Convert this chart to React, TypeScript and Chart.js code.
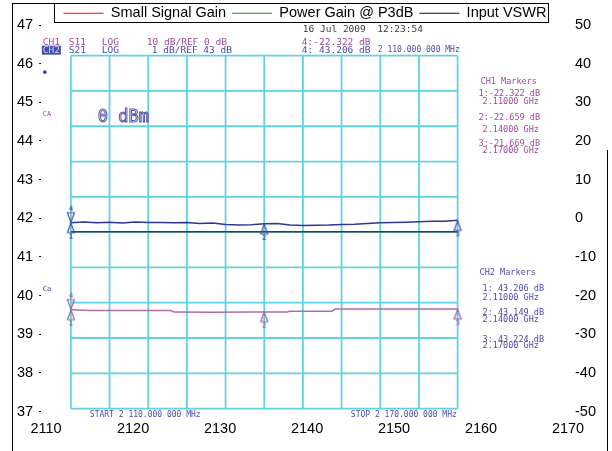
import React, { useEffect, useRef } from 'react';
import { Chart, registerables } from 'chart.js';

Chart.register(...registerables);

// ---------- outer chart axes ----------
const X_TICKS = [2110, 2120, 2130, 2140, 2150, 2160, 2170];
const LEFT_MIN = 37;
const LEFT_MAX = 47;
const LEFT_STEP = 1;
const RIGHT_MIN = -50;
const RIGHT_MAX = 50;
const RIGHT_STEP = 10;

// ---------- legend series (no plotted points visible) ----------
const LEGEND_NAMES = ['Small Signal Gain', 'Power Gain @ P3dB', 'Input VSWR'];
const SMALL_SIGNAL_GAIN: { x: number; y: number }[] = [];
const POWER_GAIN_P3DB: { x: number; y: number }[] = [];
const INPUT_VSWR: { x: number; y: number }[] = [];

// ---------- network analyzer screen (MHz / dB) ----------
const GRID_MHZ = [2110, 2116, 2122, 2128, 2134, 2140, 2146, 2152, 2158, 2164, 2170];
const GRID_CH1_DB = [25, 15, 5, -5, -15, -25, -35, -45, -55, -65, -75];

const S11_MHZ = [2110, 2112, 2114, 2116, 2118, 2120, 2122, 2124, 2126, 2128, 2130, 2132, 2134, 2136, 2138, 2140,
  2142, 2144, 2146, 2148, 2150, 2152, 2154, 2156, 2158, 2160, 2162, 2164, 2166, 2168, 2170];
const S11_DB = [-22.32, -22.1, -22.35, -22.2, -22.4, -22.15, -22.3, -22.25, -22.35, -22.3, -22.55, -22.45, -22.85,
  -22.95, -22.9, -22.66, -22.55, -22.95, -23.15, -23.05, -23.0, -22.85, -22.75, -22.55, -22.35, -22.3, -22.2,
  -22.05, -21.95, -21.9, -21.67];

const S21_MHZ = [2110, 2113, 2119, 2125.5, 2126, 2132, 2138, 2143.5, 2144, 2150.5, 2151, 2157, 2164, 2170];
const S21_DB = [43.206, 43.185, 43.184, 43.182, 43.137, 43.136, 43.14, 43.142, 43.16, 43.162, 43.224, 43.225,
  43.226, 43.224];

const CH1_LINE_MHZ = [2110, 2170];
const CH1_LINE_DB = [-24.9, -24.9];

const MARKER_MHZ = [2110, 2110, 2140, 2170];
const MARKER_LABELS = ['4', '1', '2', '3'];
const S11_MARKER_DB = [-22.322, -22.322, -22.659, -21.669];
const S21_MARKER_DB = [43.206, 43.206, 43.149, 43.224];

const FONT = '"Liberation Sans", Arial, sans-serif';
const MONO = '"DejaVu Sans Mono", "Liberation Mono", monospace';
const CH1_TXT = '#9a4a9a';
const CH2_TXT = '#4a4ca6';
const DATE_TXT = '#3a3a3a';

// annotation text: [text, anchor, dx, dy, color, size]
type Note = [string, 'L' | 'R' | 'B', number, number, string, number];
const NOTES: Note[] = [
  ['16 Jul 2009  12:23:54', 'L', 232, -26.5, DATE_TXT, 9.5],
  ['CH1', 'L', -28, -13.5, CH1_TXT, 9.5],
  ['S11', 'L', -2, -13.5, CH1_TXT, 9.5],
  ['LOG', 'L', 31, -13.5, CH1_TXT, 9.5],
  ['10 dB/REF 0 dB', 'L', 76, -13.5, CH1_TXT, 9.5],
  ['4:-22.322 dB', 'L', 231, -13.5, CH1_TXT, 9.5],
  ['S21', 'L', -2, -5.5, CH2_TXT, 9.5],
  ['LOG', 'L', 31, -5.5, CH2_TXT, 9.5],
  ['1 dB/REF 43 dB', 'L', 81, -5.5, CH2_TXT, 9.5],
  ['4: 43.206 dB', 'L', 231, -5.5, CH2_TXT, 9.5],
  ['2 110.000 000 MHz', 'L', 307, -5.5, CH2_TXT, 8],
  ['CA', 'L', -28, 58.5, CH1_TXT, 7],
  ['Ca', 'L', -28, 233.5, CH2_TXT, 7],
  ['CH1 Markers', 'R', 23, 26.5, CH1_TXT, 8.5],
  ['1:-22.322 dB', 'R', 21, 38.5, CH1_TXT, 8.5],
  ['2.11000 GHz', 'R', 25, 46.5, CH1_TXT, 8.5],
  ['2:-22.659 dB', 'R', 21, 62, CH1_TXT, 8.5],
  ['2.14000 GHz', 'R', 25, 74.5, CH1_TXT, 8.5],
  ['3:-21.669 dB', 'R', 21, 88.5, CH1_TXT, 8.5],
  ['2.17000 GHz', 'R', 25, 95.5, CH1_TXT, 8.5],
  ['CH2 Markers', 'R', 22, 217.5, CH2_TXT, 8.5],
  ['1: 43.206 dB', 'R', 25, 233, CH2_TXT, 8.5],
  ['2.11000 GHz', 'R', 25, 242, CH2_TXT, 8.5],
  ['2: 43.149 dB', 'R', 25, 257, CH2_TXT, 8.5],
  ['2.14000 GHz', 'R', 25, 264, CH2_TXT, 8.5],
  ['3: 43.224 dB', 'R', 25, 284, CH2_TXT, 8.5],
  ['2.17000 GHz', 'R', 25, 290, CH2_TXT, 8.5],
  ['START 2 110.000 000 MHz', 'B', 19, 6, CH2_TXT, 8],
  ['STOP 2 170.000 000 MHz', 'B', 280, 6, CH2_TXT, 8],
];

function makeMarker(label: string, down: boolean, color: string): HTMLCanvasElement {
  const c = document.createElement('canvas');
  c.width = 12;
  c.height = 36;
  const g = c.getContext('2d') as CanvasRenderingContext2D;
  g.strokeStyle = color;
  g.fillStyle = color;
  g.lineWidth = 1.2;
  g.beginPath();
  if (down) {
    g.moveTo(2.5, 8);
    g.lineTo(9.5, 8);
    g.lineTo(6, 17.5);
  } else {
    g.moveTo(6, 18.5);
    g.lineTo(9.5, 28);
    g.lineTo(2.5, 28);
  }
  g.closePath();
  g.stroke();
  g.font = `bold 7px ${MONO}`;
  g.textAlign = 'center';
  g.textBaseline = 'middle';
  g.fillText(label, 6, down ? 4 : 32);
  return c;
}

const gridPoints = (vertical: boolean) => {
  const pts: { x: number; y: number | null }[] = [];
  if (vertical) {
    GRID_MHZ.forEach((f) => {
      pts.push({ x: f, y: GRID_CH1_DB[0] }, { x: f, y: GRID_CH1_DB[GRID_CH1_DB.length - 1] }, { x: f, y: null });
    });
  } else {
    GRID_CH1_DB.forEach((d) => {
      pts.push({ x: GRID_MHZ[0], y: d }, { x: GRID_MHZ[GRID_MHZ.length - 1], y: d }, { x: GRID_MHZ[0], y: null });
    });
  }
  return pts;
};

const framePlugin = {
  id: 'frameAndLegendBox',
  afterDraw(chart: any) {
    const { ctx } = chart;
    const hb = chart.legend.legendHitBoxes;
    const first = hb[0];
    const last = hb[hb.length - 1];
    const l = Math.round(first.left - 10) + 0.5;
    const r = Math.round(last.left + last.width + 2) + 0.5;
    const t = 3.5;
    const b = 22.5;
    ctx.save();
    ctx.strokeStyle = '#000';
    ctx.lineWidth = 1;
    ctx.strokeRect(l, t, r - l, b - t);
    ctx.beginPath();
    ctx.moveTo(12.5, 3.5);
    ctx.lineTo(12.5, 451);
    ctx.moveTo(12, 3.5);
    ctx.lineTo(l, 3.5);
    ctx.moveTo(607.5, 150);
    ctx.lineTo(607.5, 451);
    ctx.stroke();
    ctx.restore();
  },
};

const screenTextPlugin = {
  id: 'screenText',
  afterDatasetsDraw(chart: any) {
    const { ctx } = chart;
    const xs = chart.scales.xs;
    const y1 = chart.scales.ych1;
    const gl = xs.getPixelForValue(GRID_MHZ[0]);
    const gr = xs.getPixelForValue(GRID_MHZ[GRID_MHZ.length - 1]);
    const gt = y1.getPixelForValue(GRID_CH1_DB[0]);
    const gb = y1.getPixelForValue(GRID_CH1_DB[GRID_CH1_DB.length - 1]);
    ctx.save();
    ctx.textAlign = 'left';
    ctx.textBaseline = 'middle';
    // CH2 highlighted channel label
    ctx.fillStyle = '#3f4fa8';
    ctx.fillRect(gl - 29, gt - 10, 19, 9);
    ctx.fillStyle = '#d0d6f4';
    ctx.font = `9.5px ${MONO}`;
    ctx.fillText('CH2', gl - 28, gt - 5.5);
    NOTES.forEach(([text, anchor, dx, dy, color, size]) => {
      const ox = anchor === 'R' ? gr : gl;
      const oy = anchor === 'B' ? gb : gt;
      ctx.fillStyle = color;
      ctx.font = `${size}px ${MONO}`;
      ctx.fillText(text, ox + dx, oy + dy);
    });
    // dot
    ctx.fillStyle = '#3a3ab0';
    ctx.beginPath();
    ctx.arc(gl - 26, gt + 16.5, 1.8, 0, Math.PI * 2);
    ctx.fill();
    // power level (outline font)
    ctx.font = `17px ${MONO}`;
    ctx.strokeStyle = '#5050a8';
    ctx.lineWidth = 1;
    ctx.strokeText('0 dBm', gl + 27, gt + 61.5);
    ctx.restore();
  },
};

export default function App() {
  const ref = useRef<HTMLCanvasElement>(null);

  useEffect(() => {
    const canvas = ref.current;
    if (!canvas) return;
    const CH1_MARK = '#4450a8';
    const CH2_MARK = '#9a64a6';
    const ch1Styles = MARKER_LABELS.map((l, i) => makeMarker(l, i === 0, CH1_MARK));
    const ch2Styles = MARKER_LABELS.map((l, i) => makeMarker(l, i === 0, CH2_MARK));
    const axisFont = { family: FONT, size: 14.5 };

    const chart = new Chart(canvas, {
      type: 'line',
      data: {
        datasets: [
          { label: LEGEND_NAMES[0], data: SMALL_SIGNAL_GAIN, borderColor: '#ff0000', backgroundColor: '#ff0000', borderWidth: 1, pointRadius: 0, xAxisID: 'x', yAxisID: 'y' },
          { label: LEGEND_NAMES[1], data: POWER_GAIN_P3DB, borderColor: '#009a00', backgroundColor: '#009a00', borderWidth: 1, pointRadius: 0, xAxisID: 'x', yAxisID: 'y' },
          { label: LEGEND_NAMES[2], data: INPUT_VSWR, borderColor: '#000090', backgroundColor: '#000090', borderWidth: 1, pointRadius: 0, xAxisID: 'x', yAxisID: 'y' },
          {
            label: 'grid-v', data: gridPoints(true) as any, borderColor: '#62d2de', borderWidth: 1.8, pointRadius: 0,
            spanGaps: false, xAxisID: 'xs', yAxisID: 'ych1', order: 10,
          },
          {
            label: 'grid-h', data: gridPoints(false) as any, borderColor: '#62d2de', borderWidth: 1.8, pointRadius: 0,
            spanGaps: false, xAxisID: 'xs', yAxisID: 'ych1', order: 10,
          },
          {
            label: 'CH1 line', data: CH1_LINE_MHZ.map((x, i) => ({ x, y: CH1_LINE_DB[i] })), borderColor: '#3c3c3c',
            borderWidth: 1.5, pointRadius: 0, xAxisID: 'xs', yAxisID: 'ych1', order: 5,
          },
          {
            label: 'S11', data: S11_MHZ.map((x, i) => ({ x, y: S11_DB[i] })), borderColor: '#2c3894',
            borderWidth: 1.5, pointRadius: 0, tension: 0, xAxisID: 'xs', yAxisID: 'ych1', order: 4,
          },
          {
            label: 'S21', data: S21_MHZ.map((x, i) => ({ x, y: S21_DB[i] })), borderColor: '#b06aa8',
            borderWidth: 1.5, pointRadius: 0, tension: 0, xAxisID: 'xs', yAxisID: 'ych2', order: 4,
          },
          {
            label: 'S11 markers', data: MARKER_MHZ.map((x, i) => ({ x, y: S11_MARKER_DB[i] })), showLine: false,
            pointStyle: ch1Styles as any, pointRadius: 3, xAxisID: 'xs', yAxisID: 'ych1', order: 1,
          },
          {
            label: 'S21 markers', data: MARKER_MHZ.map((x, i) => ({ x, y: S21_MARKER_DB[i] })), showLine: false,
            pointStyle: ch2Styles as any, pointRadius: 3, xAxisID: 'xs', yAxisID: 'ych2', order: 1,
          },
        ],
      },
      options: {
        responsive: false,
        animation: false,
        devicePixelRatio: 1,
        events: [],
        layout: { padding: { left: 11, right: 13, top: 0, bottom: 4 } },
        plugins: {
          legend: {
            display: true,
            position: 'top',
            maxHeight: 25,
            labels: {
              boxWidth: 40,
              boxHeight: 1,
              padding: 6,
              color: '#000',
              font: { family: FONT, size: 14.5 },
              filter: (item: any) => item.datasetIndex < 3,
              generateLabels: (c: any) =>
                (Chart.defaults.plugins.legend.labels.generateLabels as any)(c).map((l: any) => ({
                  ...l,
                  fillStyle: l.strokeStyle,
                  lineWidth: 0,
                })),
            },
          },
          tooltip: { enabled: false },
        },
        scales: {
          x: {
            type: 'linear',
            position: 'bottom',
            min: 2109.43,
            max: 2170.46,
            afterBuildTicks: (s: any) => {
              s.ticks = X_TICKS.map((v) => ({ value: v }));
            },
            grid: { display: false, drawTicks: false },
            border: { display: false },
            ticks: { padding: 9, color: '#000', font: axisFont, maxRotation: 0, autoSkip: false, callback: (v: any) => String(v) },
          },
          y: {
            type: 'linear',
            position: 'left',
            min: LEFT_MIN,
            max: LEFT_MAX,
            ticks: { stepSize: LEFT_STEP, padding: 6, color: '#000', font: axisFont, callback: (v: any) => String(v) },
            grid: { drawOnChartArea: false, drawTicks: true, tickLength: 2, tickColor: '#000', lineWidth: 1 },
            border: { display: false },
          },
          yRight: {
            type: 'linear',
            axis: 'y',
            position: 'right',
            min: RIGHT_MIN,
            max: RIGHT_MAX,
            ticks: { stepSize: RIGHT_STEP, padding: 3, color: '#000', font: axisFont, callback: (v: any) => String(v) },
            grid: { display: false, drawTicks: false },
            border: { display: false },
          },
          xs: { type: 'linear', axis: 'x', display: false, min: 2105.39, max: 2187.75 },
          ych1: { type: 'linear', axis: 'y', display: false, min: -75.85, max: 33.68 },
          ych2: { type: 'linear', axis: 'y', display: false, min: 40.318, max: 51.27 },
        } as any,
      },
      plugins: [framePlugin, screenTextPlugin],
    } as any);

    return () => chart.destroy();
  }, []);

  return (
    <div style={{ position: 'absolute', left: 0, top: 0, width: 612, height: 451, background: '#fff' }}>
      <canvas ref={ref} width={612} height={451} style={{ display: 'block' }} />
    </div>
  );
}
